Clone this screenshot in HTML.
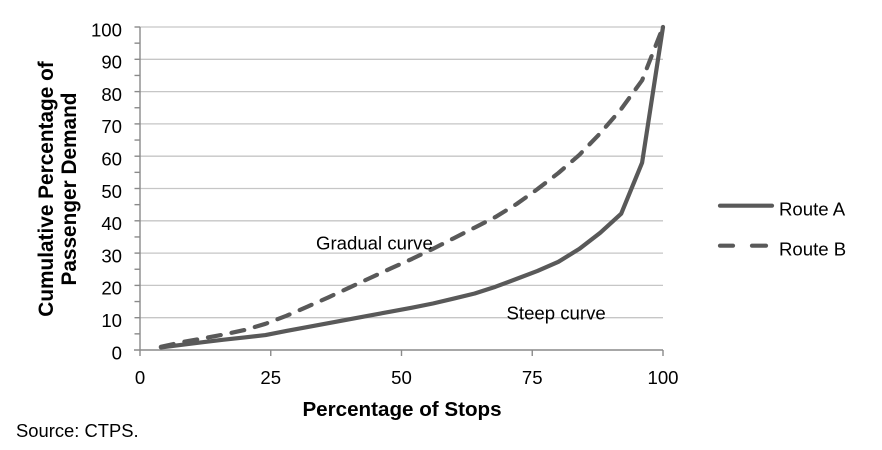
<!DOCTYPE html>
<html>
<head>
<meta charset="utf-8">
<style>
  html, body { margin: 0; padding: 0; background: #ffffff; }
  svg { display: block; }
  text { font-family: "Liberation Sans", Arial, sans-serif; fill: #000; }
</style>
</head>
<body>
<svg width="882" height="450" viewBox="0 0 882 450" xmlns="http://www.w3.org/2000/svg">
  <rect x="0" y="0" width="882" height="450" fill="#ffffff"/>

  <!-- gridlines -->
  <g stroke="#c6c6c6" stroke-width="1.3">
    <line x1="140" y1="27" x2="663" y2="27"/>
    <line x1="140" y1="59.3" x2="663" y2="59.3"/>
    <line x1="140" y1="91.6" x2="663" y2="91.6"/>
    <line x1="140" y1="123.9" x2="663" y2="123.9"/>
    <line x1="140" y1="156.2" x2="663" y2="156.2"/>
    <line x1="140" y1="188.5" x2="663" y2="188.5"/>
    <line x1="140" y1="220.8" x2="663" y2="220.8"/>
    <line x1="140" y1="253.1" x2="663" y2="253.1"/>
    <line x1="140" y1="285.4" x2="663" y2="285.4"/>
    <line x1="140" y1="317.7" x2="663" y2="317.7"/>
  </g>

  <!-- axes -->
  <g stroke="#8a8a8a" stroke-width="1.4">
    <line x1="140" y1="27" x2="140" y2="356"/>
    <line x1="134" y1="350" x2="663" y2="350"/>
    <!-- y ticks every 5 -->
    <line x1="134.5" y1="27" x2="140" y2="27"/>
    <line x1="134.5" y1="43.15" x2="140" y2="43.15"/>
    <line x1="134.5" y1="59.3" x2="140" y2="59.3"/>
    <line x1="134.5" y1="75.45" x2="140" y2="75.45"/>
    <line x1="134.5" y1="91.6" x2="140" y2="91.6"/>
    <line x1="134.5" y1="107.75" x2="140" y2="107.75"/>
    <line x1="134.5" y1="123.9" x2="140" y2="123.9"/>
    <line x1="134.5" y1="140.05" x2="140" y2="140.05"/>
    <line x1="134.5" y1="156.2" x2="140" y2="156.2"/>
    <line x1="134.5" y1="172.35" x2="140" y2="172.35"/>
    <line x1="134.5" y1="188.5" x2="140" y2="188.5"/>
    <line x1="134.5" y1="204.65" x2="140" y2="204.65"/>
    <line x1="134.5" y1="220.8" x2="140" y2="220.8"/>
    <line x1="134.5" y1="236.95" x2="140" y2="236.95"/>
    <line x1="134.5" y1="253.1" x2="140" y2="253.1"/>
    <line x1="134.5" y1="269.25" x2="140" y2="269.25"/>
    <line x1="134.5" y1="285.4" x2="140" y2="285.4"/>
    <line x1="134.5" y1="301.55" x2="140" y2="301.55"/>
    <line x1="134.5" y1="317.7" x2="140" y2="317.7"/>
    <line x1="134.5" y1="333.85" x2="140" y2="333.85"/>
    <!-- x ticks -->
    <line x1="270.75" y1="350" x2="270.75" y2="356"/>
    <line x1="401.5" y1="350" x2="401.5" y2="356"/>
    <line x1="532.25" y1="350" x2="532.25" y2="356"/>
    <line x1="663" y1="350" x2="663" y2="356"/>
  </g>

  <!-- y tick labels -->
  <g font-size="18.6" text-anchor="end">
    <text x="122" y="36.3">100</text>
    <text x="122" y="68.6">90</text>
    <text x="122" y="100.9">80</text>
    <text x="122" y="133.2">70</text>
    <text x="122" y="165.5">60</text>
    <text x="122" y="197.8">50</text>
    <text x="122" y="230.1">40</text>
    <text x="122" y="262.4">30</text>
    <text x="122" y="294.7">20</text>
    <text x="122" y="327">10</text>
    <text x="122" y="359.3">0</text>
  </g>

  <!-- x tick labels -->
  <g font-size="18.6" text-anchor="middle">
    <text x="140" y="384">0</text>
    <text x="270.75" y="384">25</text>
    <text x="401.5" y="384">50</text>
    <text x="532.25" y="384">75</text>
    <text x="663" y="384">100</text>
  </g>

  <!-- axis titles -->
  <text x="402" y="416" font-size="20.6" font-weight="bold" text-anchor="middle">Percentage of Stops</text>
  <g font-size="20.8" font-weight="bold" text-anchor="middle">
    <text transform="translate(53,189) rotate(-90)" x="0" y="0">Cumulative Percentage of</text>
    <text transform="translate(76,189) rotate(-90)" x="0" y="0">Passenger Demand</text>
  </g>

  <!-- Route B (dashed) -->
  <polyline fill="none" stroke="#595959" stroke-width="4.2" stroke-linecap="round" stroke-linejoin="round"
    stroke-dasharray="13 11"
    points="160.9,346.8 181.8,342.2 202.8,338.4 223.7,334.5 244.6,330.0 265.5,323.8 286.4,315.8 307.4,306.7 328.3,297.4 349.2,287.7 370.1,278.0 391.0,268.3 412.0,258.9 432.9,248.9 453.8,238.2 474.7,227.6 495.6,216.9 516.6,204.0 537.5,189.1 558.4,173.0 579.3,154.9 600.2,133.3 621.2,109.0 642.1,80.3 663,27"/>

  <!-- Route A (solid) -->
  <polyline fill="none" stroke="#595959" stroke-width="4.2" stroke-linecap="round" stroke-linejoin="round"
    points="160.9,347.4 181.8,344.8 202.8,342.2 223.7,339.7 244.6,337.4 265.5,335.1 286.4,330.9 307.4,327.1 328.3,323.2 349.2,319.3 370.1,315.4 391.0,311.6 412.0,307.7 432.9,303.5 453.8,298.6 474.7,293.5 495.6,286.7 516.6,278.9 537.5,270.9 558.4,261.8 579.3,248.9 600.2,232.8 621.2,213.7 642.1,162.7 663,27"/>

  <!-- annotations -->
  <text x="316" y="249.5" font-size="18.6">Gradual curve</text>
  <text x="506.5" y="319.5" font-size="18.6">Steep curve</text>

  <!-- legend -->
  <line x1="720" y1="205.7" x2="772" y2="205.7" stroke="#595959" stroke-width="4.2" stroke-linecap="round"/>
  <text x="779" y="215.5" font-size="18.6">Route A</text>
  <line x1="720" y1="245.7" x2="733" y2="245.7" stroke="#595959" stroke-width="4.2" stroke-linecap="round"/>
  <line x1="752" y1="245.7" x2="766" y2="245.7" stroke="#595959" stroke-width="4.2" stroke-linecap="round"/>
  <text x="779" y="255.5" font-size="18.6">Route B</text>

  <!-- source -->
  <text x="16" y="437" font-size="18.4">Source: CTPS.</text>
</svg>
</body>
</html>
